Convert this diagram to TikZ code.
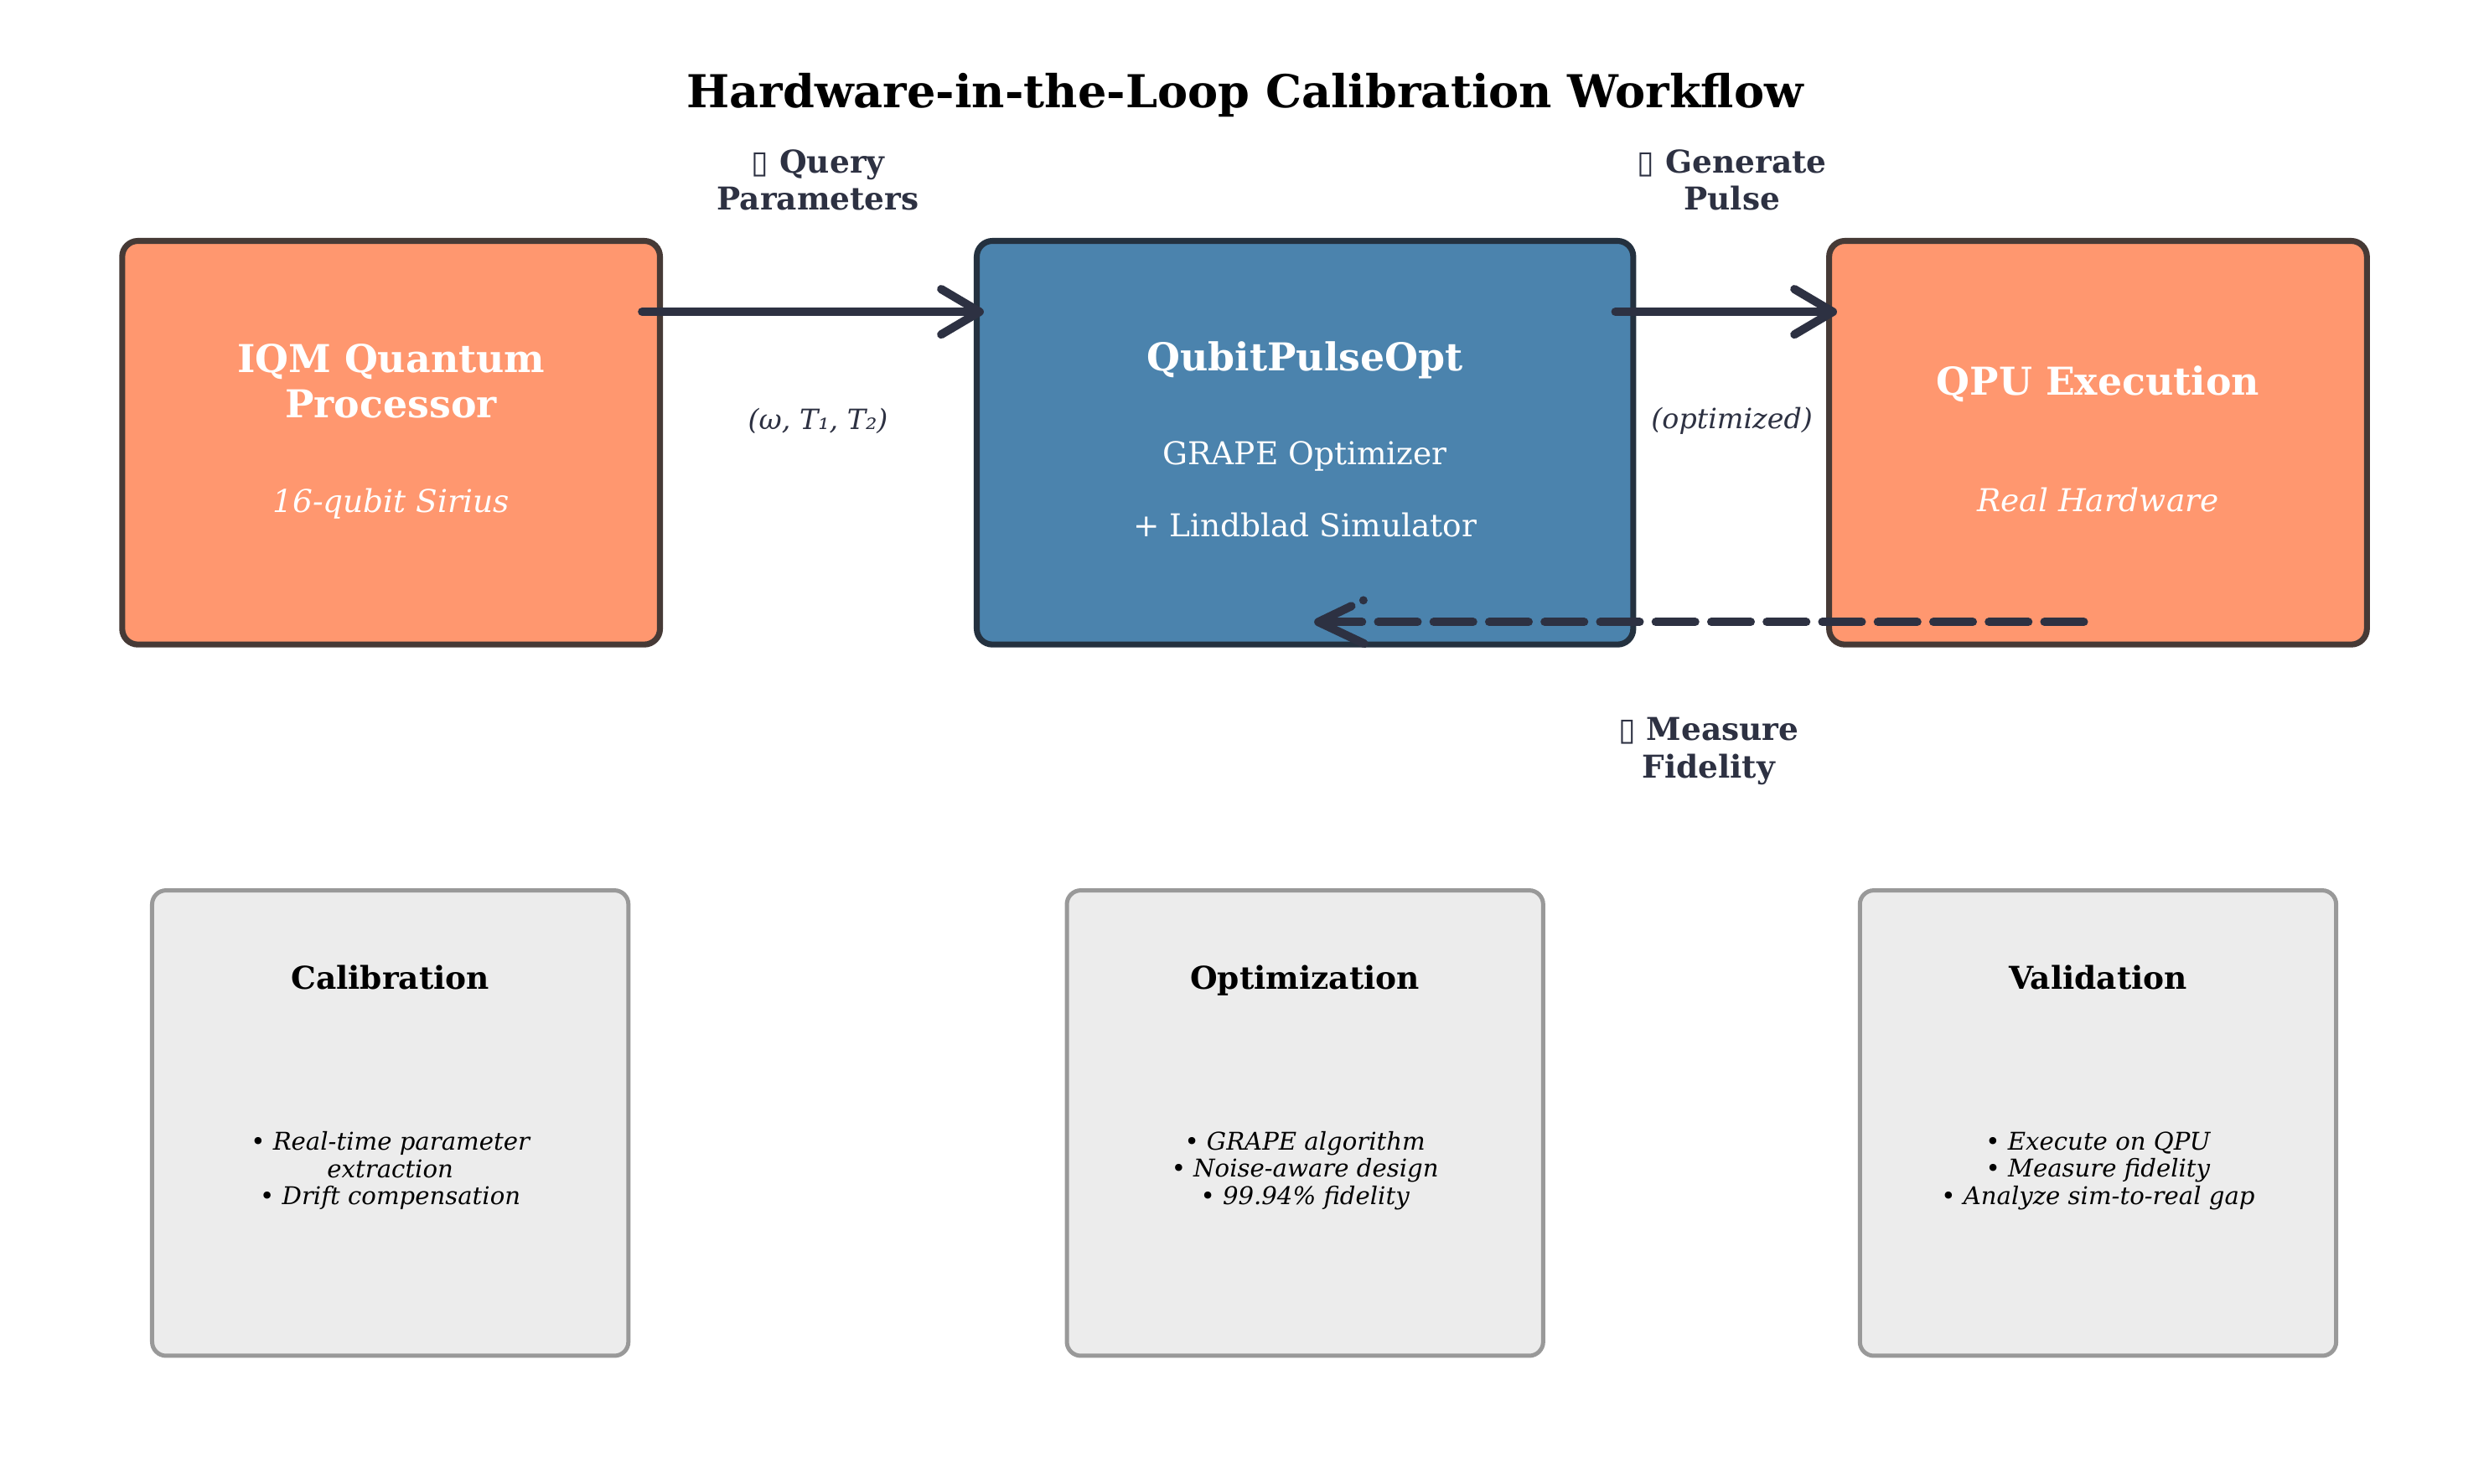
\documentclass[tikz,border=0pt]{standalone}
\usepackage{fontspec}
\setmainfont{DejaVu Serif}
\newfontfamily\symfont{DejaVu Sans}
\usetikzlibrary{arrows.meta,calc}
\definecolor{navy}{HTML}{2D3142}
\definecolor{salmon}{HTML}{FF976F}
\definecolor{steel}{HTML}{4B83AD}
\definecolor{panel}{HTML}{ECECEC}
\definecolor{panelline}{HTML}{999999}
\definecolor{orangeline}{HTML}{463a36}
\definecolor{blueline}{HTML}{24313f}
\begin{document}
\begin{tikzpicture}[x=0.2388pt,y=-0.2388pt,
  mainbox/.style={rounded corners=4.5pt, line width=1.7pt, inner sep=0pt, minimum height=115.6pt},
  hwbox/.style={mainbox, fill=salmon, draw=orangeline, minimum width=154pt},
  optbox/.style={mainbox, fill=steel, draw=blueline, minimum width=188pt},
  infobox/.style={rounded corners=4pt, line width=1.2pt, inner sep=0pt, fill=panel, draw=panelline, minimum width=136.4pt, minimum height=133.3pt},
  boxtitle/.style={text=white, align=center, font=\bfseries\fontsize{11}{13}\selectfont},
  onel/.style={text height=0.75em, text depth=0.25em},
  boxsub/.style={text=white, align=center, font=\fontsize{9}{11}\selectfont},
  boxsubit/.style={text=white, align=center, font=\itshape\fontsize{9}{11}\selectfont},
  steplbl/.style={text=navy, align=center, font=\bfseries\fontsize{9}{10.7}\selectfont},
  paramlbl/.style={text=navy, align=center, font=\itshape\fontsize{8}{9.5}\selectfont},
  infotitle/.style={text=black, align=center, onel, font=\bfseries\fontsize{9}{10.5}\selectfont},
  infotext/.style={text=black, align=center, font=\itshape\fontsize{7}{7.8}\selectfont},
  arr/.style={draw=navy, line width=2.4pt, line cap=round, -{Straight Barb[length=11pt,width=13pt,line join=round,line cap=round]}},
  dasharr/.style={draw=navy, line width=2.4pt, line cap=round, dash pattern=on 11.3pt off 4.6pt},
  dashhead/.style={draw=navy, line width=2.4pt, line cap=round, line join=round, dash pattern=on 0pt off 3.8pt on 100pt}
]
\useasboundingbox (0,0) rectangle (2984.9,1778.9);
\fill[white] (0,0) rectangle (2984.9,1778.9);

\node[font=\bfseries\fontsize{13}{15.5}\selectfont] (title) at (1493,114) {Hardware-in-the-Loop Calibration Workflow};

% main boxes
\node[hwbox] (iqm) at (469,531) {};
\node[optbox] (opt) at (1565,531) {};
\node[hwbox] (qpu) at (2516,531) {};

\node[boxtitle] (iqmt) at (469,457) {IQM Quantum\\Processor};
\node[boxsubit, onel] (iqms) at (469,604) {16-qubit Sirius};
\node[boxtitle, onel] (optt) at (1565,434) {QubitPulseOpt};
\node[boxsub, onel] (opts1) at (1565,547) {GRAPE Optimizer};
\node[boxsub, onel] (opts2) at (1565,633) {+ Lindblad Simulator};
\node[boxtitle, onel] (qput) at (2516,463) {QPU Execution};
\node[boxsubit, onel] (qpus) at (2516,603) {Real Hardware};

% connectors
\coordinate (a1s) at ($(iqm.east)+(-25,-157)$);
\coordinate (a1e) at ($(opt.west)+(12,-157)$);
\coordinate (a2s) at ($(opt.east)+(-25,-157)$);
\coordinate (a2e) at ($(qpu.west)+(13,-157)$);
\draw[arr] (a1s) -- (a1e);
\draw[arr] (a2s) -- (a2e);

\coordinate (a3s) at ($(qpu.center)+(-17,215)$);
\coordinate (a3e) at ($(opt.center)+(16,215)$);
\coordinate (a3u) at ($(a3e)+(54,-26)$);
\coordinate (a3l) at ($(a3e)+(55,26)$);
\draw[dasharr] (a3s) -- (a3e);
\draw[dashhead] (a3u) -- (a3e) -- (a3l);

% arrow labels
\node[steplbl] (l1) at (981,216) {{\symfont ▯} Query\\Parameters};
\node[paramlbl] (p1) at (981,505) {(ω, T₁, T₂)};
\node[steplbl] (l2) at (2077,216) {{\symfont ▯} Generate\\Pulse};
\node[paramlbl] (p2) at (2077,505) {(optimized)};
\node[steplbl] (l3) at (2049,901) {{\symfont ▯} Measure\\Fidelity};

% info boxes
\node[infobox] (cal) at (468,1347) {};
\node[infobox] (opz) at (1565,1347) {};
\node[infobox] (val) at (2516,1347) {};
\node[infotitle] (calt) at (468,1176) {Calibration};
\node[infotitle] (opzt) at (1565,1176) {Optimization};
\node[infotitle] (valt) at (2516,1176) {Validation};
\node[infotext] (calx) at (468,1404) {• Real-time parameter\\extraction\\• Drift compensation};
\node[infotext] (opzx) at (1565,1404) {• GRAPE algorithm\\• Noise-aware design\\• 99.94\% fidelity};
\node[infotext] (valx) at (2516,1404) {• Execute on QPU\\• Measure fidelity\\• Analyze sim-to-real gap};
\end{tikzpicture}
\end{document}
